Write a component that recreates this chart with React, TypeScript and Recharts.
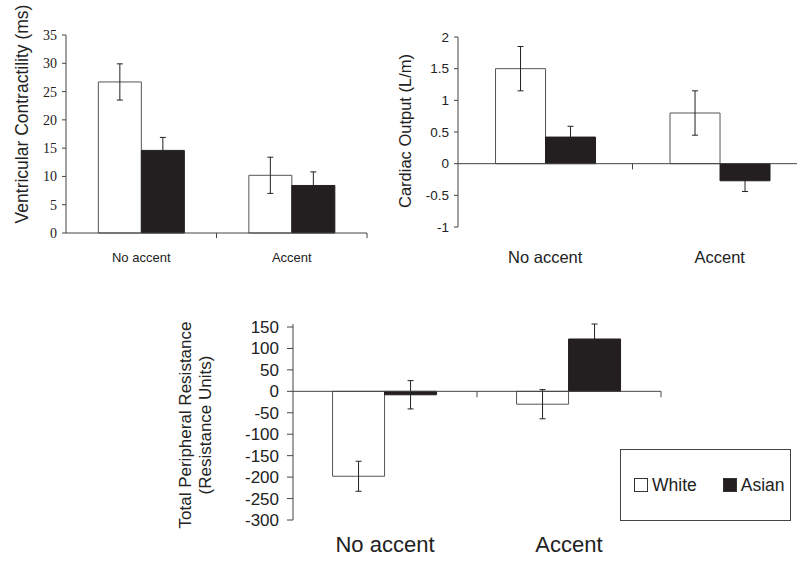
import { BarChart, Bar, XAxis, YAxis, ErrorBar, ReferenceLine, Legend, Label } from 'recharts';

// groups on the x axis
const groups = ['No accent', 'Accent'];
const seriesNames = ['White', 'Asian'];

// ventricular contractility (ms)
const contractWhite = [26.7, 10.2];
const contractWhiteErr = [3.2, 3.2];
const contractAsian = [14.6, 8.4];
const contractAsianErr = [2.3, 2.4];
const contractTicks = [0, 5, 10, 15, 20, 25, 30, 35];

// cardiac output (L/m)
const outputWhite = [1.5, 0.8];
const outputWhiteErr = [0.35, 0.35];
const outputAsian = [0.42, -0.27];
const outputAsianErr = [0.17, 0.17];
const outputTicks = [-1, -0.5, 0, 0.5, 1, 1.5, 2];

// total peripheral resistance
const resistWhite = [-198, -30];
const resistWhiteErr = [35, 34];
const resistAsian = [-8, 122];
const resistAsianErr = [33, 35];
const resistTicks = [150, 100, 50, 0, -50, -100, -150, -200, -250, -300];

const buildRows = (w: number[], we: number[], a: number[], ae: number[]) =>
    groups.map((g, i) => ({ group: g, white: w[i], whiteErr: we[i], asian: a[i], asianErr: ae[i] }));

const contractData = buildRows(contractWhite, contractWhiteErr, contractAsian, contractAsianErr);
const outputData = buildRows(outputWhite, outputWhiteErr, outputAsian, outputAsianErr);
const resistData = buildRows(resistWhite, resistWhiteErr, resistAsian, resistAsianErr);

const SANS = 'Liberation Sans, Arial, sans-serif';
const SERIF = 'Liberation Serif, Times New Roman, serif';
const AXIS = '#444';
const INK = '#222';
const DARK = '#231f20';

function renderLegend(props: any) {
    const items = [...(props.payload || [])].sort(
        (a: any, b: any) => seriesNames.indexOf(a.value) - seriesNames.indexOf(b.value)
    );
    return (
        <div
            style={{
                display: 'flex',
                alignItems: 'center',
                height: '100%',
                paddingLeft: 13,
                fontFamily: SANS,
                fontSize: 17.5,
                color: INK,
            }}
        >
            {items.map((entry: any, i: number) => (
                <span key={entry.value} style={{ display: 'flex', alignItems: 'center', marginRight: i === 0 ? 26 : 0 }}>
                    <span
                        style={{
                            display: 'inline-block',
                            width: 12,
                            height: 12,
                            background: entry.color,
                            border: '1px solid #333',
                            marginRight: 4,
                        }}
                    />
                    {entry.value}
                </span>
            ))}
        </div>
    );
}

function bars() {
    return [
        <Bar key="w" dataKey="white" name={seriesNames[0]} fill="#fff" stroke="#555" strokeWidth={1} isAnimationActive={false}>
            <ErrorBar dataKey="whiteErr" width={3} stroke={INK} strokeWidth={1} isAnimationActive={false} />
        </Bar>,
        <Bar key="a" dataKey="asian" name={seriesNames[1]} fill={DARK} stroke={DARK} isAnimationActive={false}>
            <ErrorBar dataKey="asianErr" width={3} stroke={INK} strokeWidth={1} isAnimationActive={false} />
        </Bar>,
    ];
}

export default function App() {
    return (
        <div style={{ position: 'absolute', left: 0, top: 0, width: 797, height: 567, overflow: 'hidden', background: '#fff' }}>
            {/* Ventricular contractility */}
            <div style={{ position: 'absolute', left: 0, top: 0 }}>
                <BarChart
                    width={380}
                    height={280}
                    data={contractData}
                    margin={{ top: 35, right: 13, left: 0, bottom: 0 }}
                    barCategoryGap="21.5%"
                    barGap={0}
                >
                    <XAxis
                        dataKey="group"
                        height={47}
                        stroke={AXIS}
                        tickLine={false}
                        tickSize={6}
                        tickMargin={14}
                        tick={{ fontSize: 13, fill: INK, fontFamily: SANS }}
                    />
                    <YAxis
                        width={66}
                        domain={[0, 35]}
                        ticks={contractTicks}
                        interval={0}
                        stroke={AXIS}
                        tickSize={4}
                        tickMargin={5}
                        tick={{ fontSize: 14, fill: INK, fontFamily: SERIF }}
                    >
                        <Label
                            value="Ventricular Contractility (ms)"
                            angle={-90}
                            position="center"
                            dx={-11}
                            dy={-20}
                            style={{ fontSize: 17.5, fill: INK, fontFamily: SANS }}
                        />
                    </YAxis>
                    {bars()}
                    <ReferenceLine
                        segment={[{ x: 'Accent', y: 0 }, { x: 'Accent', y: -0.9 }]}
                        position="start"
                        stroke={AXIS}
                        ifOverflow="visible"
                    />
                    <ReferenceLine
                        segment={[{ x: 'Accent', y: 0 }, { x: 'Accent', y: -0.9 }]}
                        position="end"
                        stroke={AXIS}
                        ifOverflow="visible"
                    />
                </BarChart>
            </div>

            {/* Cardiac output */}
            <div style={{ position: 'absolute', left: 380, top: 0 }}>
                <BarChart
                    width={427}
                    height={280}
                    data={outputData}
                    margin={{ top: 37, right: 0, left: 0, bottom: 0 }}
                    barCategoryGap="21.5%"
                    barGap={0}
                >
                    <XAxis
                        dataKey="group"
                        height={53}
                        axisLine={false}
                        tickLine={false}
                        tickSize={6}
                        tickMargin={18}
                        tick={{ fontSize: 16.5, fill: INK, fontFamily: SANS }}
                    />
                    <YAxis
                        width={78}
                        domain={[-1, 2]}
                        ticks={outputTicks}
                        interval={0}
                        stroke={AXIS}
                        tickSize={4}
                        tickMargin={5}
                        tick={{ fontSize: 13.5, fill: INK, fontFamily: SANS }}
                    >
                        <Label
                            value="Cardiac Output (L/m)"
                            angle={-90}
                            position="center"
                            dx={-14}
                            dy={-1}
                            style={{ fontSize: 16.5, fill: INK, fontFamily: SANS }}
                        />
                    </YAxis>
                    {bars()}
                    <ReferenceLine y={0} stroke={AXIS} />
                    <ReferenceLine
                        segment={[{ x: 'Accent', y: 0 }, { x: 'Accent', y: -0.09 }]}
                        position="start"
                        stroke={AXIS}
                    />
                </BarChart>
            </div>

            {/* Total peripheral resistance */}
            <div style={{ position: 'absolute', left: 160, top: 300 }}>
                <BarChart
                    width={510}
                    height={267}
                    data={resistData}
                    margin={{ top: 24, right: 9, left: 0, bottom: 0 }}
                    barCategoryGap="21.5%"
                    barGap={0}
                >
                    <XAxis
                        dataKey="group"
                        height={47}
                        axisLine={false}
                        tickLine={false}
                        tickSize={6}
                        tickMargin={10}
                        tick={{ fontSize: 22, fill: INK, fontFamily: SANS }}
                    />
                    <YAxis
                        width={133}
                        domain={[-300, 150]}
                        ticks={resistTicks}
                        interval={0}
                        stroke={AXIS}
                        tickSize={6}
                        tickMargin={8}
                        tick={{ fontSize: 17, fill: INK, fontFamily: SANS }}
                    >
                        <Label
                            value="Total Peripheral Resistance"
                            angle={-90}
                            position="center"
                            dx={-42}
                            dy={3}
                            style={{ fontSize: 17, fill: INK, fontFamily: SANS }}
                        />
                        <Label
                            value="(Resistance Units)"
                            angle={-90}
                            position="center"
                            dx={-22}
                            dy={3}
                            style={{ fontSize: 17, fill: INK, fontFamily: SANS }}
                        />
                    </YAxis>
                    {bars()}
                    <ReferenceLine y={0} stroke={AXIS} />
                    <ReferenceLine
                        segment={[{ x: 'Accent', y: 0 }, { x: 'Accent', y: -14 }]}
                        position="start"
                        stroke={AXIS}
                    />
                    <ReferenceLine
                        segment={[{ x: 'Accent', y: 0 }, { x: 'Accent', y: -14 }]}
                        position="end"
                        stroke={AXIS}
                    />
                    <Legend
                        layout="horizontal"
                        align="center"
                        verticalAlign="middle"
                        content={renderLegend}
                        wrapperStyle={{
                            position: 'absolute',
                            left: 460,
                            top: 149,
                            width: 171,
                            height: 72,
                            border: '1px solid #444',
                            boxSizing: 'border-box',
                            background: '#fff',
                        }}
                    />
                </BarChart>
            </div>
        </div>
    );
}
